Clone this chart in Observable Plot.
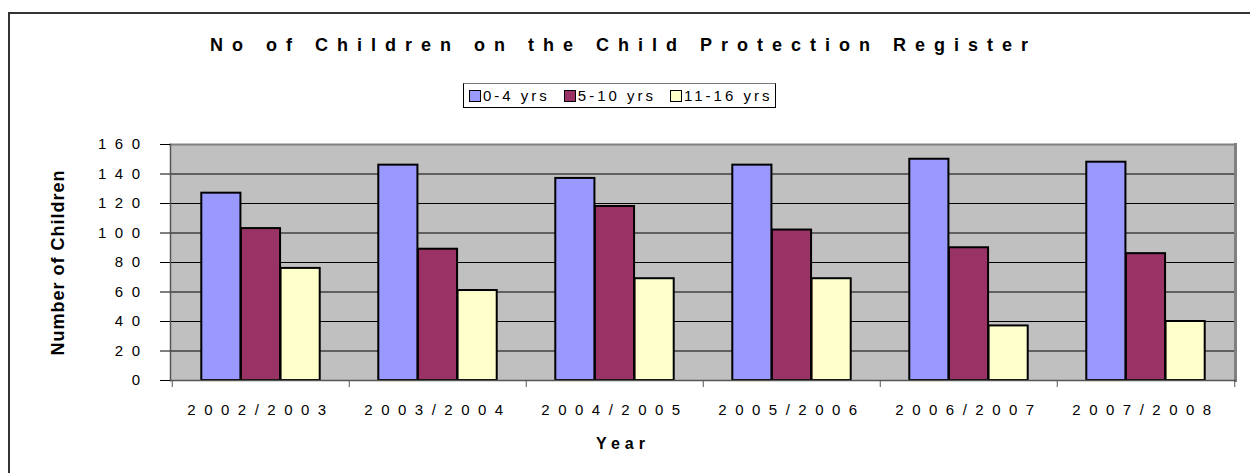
<!DOCTYPE html>
<html><head><meta charset="utf-8">
<script src="https://cdn.jsdelivr.net/npm/d3@7"></script>
<script src="https://cdn.jsdelivr.net/npm/@observablehq/plot@0.6"></script>
<style>
body{margin:0;background:#fff;font-family:Arial,"Liberation Sans",sans-serif;}
#chart{position:relative;width:1250px;height:473px;overflow:hidden;background:#fff;}
#frame{position:absolute;left:8px;top:12px;width:1300px;height:520px;border:2px solid #333;box-sizing:border-box;}
#title{position:absolute;left:210px;top:35px;white-space:nowrap;font-weight:bold;font-size:18px;letter-spacing:9px;color:#000;}
#legend{position:absolute;left:463px;top:83px;width:313px;height:25px;box-sizing:border-box;border:1px solid #000;border-top-color:#777;background:#fff;display:flex;align-items:center;padding-left:5px;}
.item{display:flex;align-items:center;font-size:15px;letter-spacing:3px;white-space:nowrap;margin-right:14px;}
.sw{width:12px;height:12px;border:1.5px solid #000;box-sizing:border-box;margin-right:2px;}
#plot{position:absolute;left:0;top:120px;}
#plot g[aria-label="y-axis tick label"] text{letter-spacing:8.5px;}
#plot g[aria-label="x-axis tick label"] text{letter-spacing:8.5px;}
</style>
</head><body>
<div id="chart">
  <div id="frame"></div>
  <div id="title"></div>
  <div id="legend"></div>
  <div id="plot"></div>
</div>
<script>
const title = "No of Children on the Child Protection Register";
const years = ["2002/2003","2003/2004","2004/2005","2005/2006","2006/2007","2007/2008"];
const series = ["0-4 yrs","5-10 yrs","11-16 yrs"];
const age0to4 = [127,146,137,146,150,148];
const age5to10 = [103,89,118,102,90,86];
const age11to16 = [76,61,69,69,37,40];
const yTicks = [0,20,40,60,80,100,120,140,160];
const colors = ["#9999FF","#993366","#FFFFCC"];
const yLabel = "Number of Children";
const xLabel = "Year";

const values = [age0to4, age5to10, age11to16];
const data = years.flatMap((yr, i) => series.map((s, k) => ({year: yr, series: s, value: values[k][i]})));

document.getElementById("title").textContent = title;
const legend = document.getElementById("legend");
series.forEach((s, k) => {
  const it = document.createElement("div");
  it.className = "item";
  const sw = document.createElement("div");
  sw.className = "sw";
  sw.style.background = colors[k];
  it.appendChild(sw);
  const t = document.createElement("span");
  t.textContent = s;
  it.appendChild(t);
  legend.appendChild(it);
});

const W = 1250, ML = 170, MR = 15;
const bw = (W - ML - MR) / years.length;
const pad = bw * 0.165;
const barW = (bw - 2 * pad) / 3;

const barMarks = series.map((s, k) =>
  Plot.barY(data.filter(d => d.series === s), {
    x: "year", y: "value", fill: "series",
    stroke: "#000", strokeWidth: 2,
    insetLeft: pad + k * barW,
    insetRight: bw - pad - (k + 1) * barW
  })
);

const chart = Plot.plot({
  width: W, height: 353,
  marginLeft: ML, marginRight: MR, marginTop: 24, marginBottom: 93,
  style: {fontFamily: "Arial, 'Liberation Sans', sans-serif", fontSize: "15px", color: "#000", background: "transparent", overflow: "visible"},
  x: {domain: years, padding: 0, label: null},
  y: {domain: [0, 160], label: null},
  color: {domain: series, range: colors},
  marks: [
    Plot.frame({fill: "#c0c0c0", stroke: null}),
    Plot.gridY(yTicks, {stroke: "#000", strokeOpacity: 1, strokeWidth: 1}),
    ...barMarks,
    Plot.frame({anchor: "top", stroke: "#808080", strokeWidth: 2}),
    Plot.frame({anchor: "right", stroke: "#808080", strokeWidth: 3}),
    Plot.frame({anchor: "left", stroke: "#555", strokeWidth: 1.5}),
    Plot.frame({anchor: "bottom", stroke: "#555", strokeWidth: 1.5}),
    Plot.axisY(yTicks, {tickSize: 10, tickPadding: 12, stroke: "#000", fill: "#000", fontSize: 15}),
    Plot.axisX({tickSize: 0, tickPadding: 24, fill: "#000", fontSize: 15}),
    Plot.axisX(years, {tickSize: 7, tickFormat: () => "", dx: -bw / 2, stroke: "#555"}),
    Plot.axisX([years[years.length - 1]], {tickSize: 7, tickFormat: () => "", dx: bw / 2, stroke: "#555"}),
    Plot.text([yLabel], {text: d => d, frameAnchor: "left", textAnchor: "middle", dx: -112, rotate: -90, fontWeight: "bold", fontSize: 18, fill: "#000"}),
    Plot.text([xLabel], {text: d => d, frameAnchor: "bottom", dx: -80, dy: 68, fontWeight: "bold", fontSize: 16, fill: "#000"})
  ]
});
d3.select(chart).selectAll("text").each(function() {
  if (this.textContent === yLabel) this.style.letterSpacing = "1px";
  if (this.textContent === xLabel) this.style.letterSpacing = "5px";
});
document.getElementById("plot").appendChild(chart);
</script>
</body></html>
